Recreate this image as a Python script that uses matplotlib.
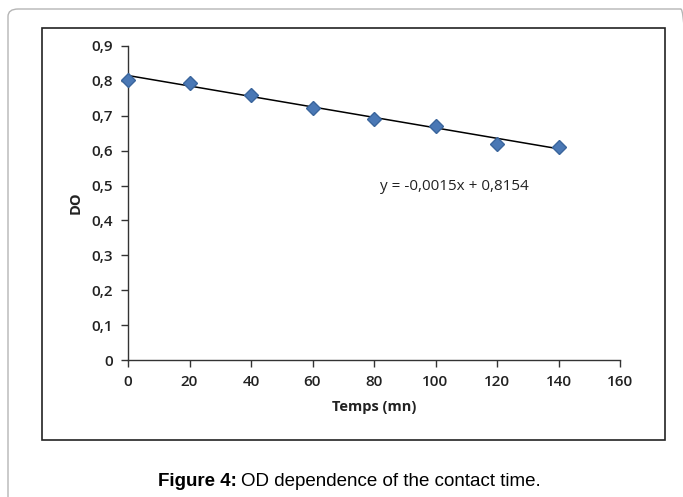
import matplotlib
matplotlib.use("Agg")
import matplotlib.pyplot as plt
import numpy as np
from matplotlib.patches import FancyBboxPatch, Rectangle
from matplotlib.ticker import FuncFormatter

temps = [0, 20, 40, 60, 80, 100, 120, 140]
do_vals = [0.803, 0.794, 0.759, 0.722, 0.691, 0.670, 0.619, 0.610]
slope = -0.0015
intercept = 0.8154
eq_text = "y = -0,0015x + 0,8154"
xticks = [0, 20, 40, 60, 80, 100, 120, 140, 160]
yticks = [0, 0.1, 0.2, 0.3, 0.4, 0.5, 0.6, 0.7, 0.8, 0.9]

W, H = 683, 497
fig = plt.figure(figsize=(W / 100, H / 100), dpi=100)

# outer rounded frame
outer = FancyBboxPatch((8 / W, -0.1), 1.0, 1 - 9 / H + 0.1,
                       boxstyle="round,pad=0,rounding_size=0.015",
                       transform=fig.transFigure, fill=False,
                       edgecolor="#b5b5b5", linewidth=1.0)
fig.patches.append(outer)
# inner chart box
inner = Rectangle((42 / W, 1 - 440 / H), (665 - 42) / W, (440 - 28) / H,
                  transform=fig.transFigure, fill=False,
                  edgecolor="#222222", linewidth=1.2)
fig.patches.append(inner)

ax = fig.add_axes([128 / W, 1 - 360 / H, (620 - 128) / W, (360 - 46) / H])
ax.set_xlim(0, 160)
ax.set_ylim(0, 0.9)

xl = np.array([temps[0], temps[-1]])
ax.plot(xl, slope * xl + intercept, color="black", linewidth=1.1, zorder=2)
ax.plot(temps, do_vals, linestyle="none", marker="D", markersize=7.5,
        color="#4a78b5", markeredgecolor="#3a659c", zorder=3, clip_on=False)

for s in ["top", "right"]:
    ax.spines[s].set_visible(False)
for s in ["left", "bottom"]:
    ax.spines[s].set_color("#333333")
    ax.spines[s].set_linewidth(1.0)

ax.set_xticks(xticks)
ax.set_yticks(yticks)
ax.xaxis.set_major_formatter(FuncFormatter(lambda v, p: f"{int(v)}"))
ax.yaxis.set_major_formatter(
    FuncFormatter(lambda v, p: "0" if abs(v) < 1e-9 else f"{v:.1f}".replace(".", ",")))
ax.tick_params(axis="both", direction="out", length=5, width=1.0,
               color="#333333", labelsize=11, pad=6)
for lab in ax.get_xticklabels() + ax.get_yticklabels():
    lab.set_family("Open Sans")
    lab.set_fontweight("semibold")
    lab.set_color("#222222")

ax.set_xlabel("Temps (mn)", family="Open Sans", fontweight="bold",
              fontsize=10.5, color="#222222", labelpad=8)
ax.set_ylabel("DO", family="Open Sans", fontweight="bold",
              fontsize=10.5, color="#222222", labelpad=6)

ax.text(380 / W, 1 - 187 / H, eq_text, transform=fig.transFigure,
        family="Open Sans", fontsize=11, color="#222222", va="center", ha="left")

t1 = fig.text(158 / W, 1 - 481 / H, "Figure 4:", family="Liberation Sans",
              fontweight="bold", fontsize=13.5, va="center", ha="left")
fig.canvas.draw()
bb = t1.get_window_extent()
fig.text((bb.x1 + 4) / W, 1 - 481 / H, "OD dependence of the contact time.",
         family="Liberation Sans", fontsize=13.5, va="center", ha="left")

fig.savefig("out.png", dpi=100)
